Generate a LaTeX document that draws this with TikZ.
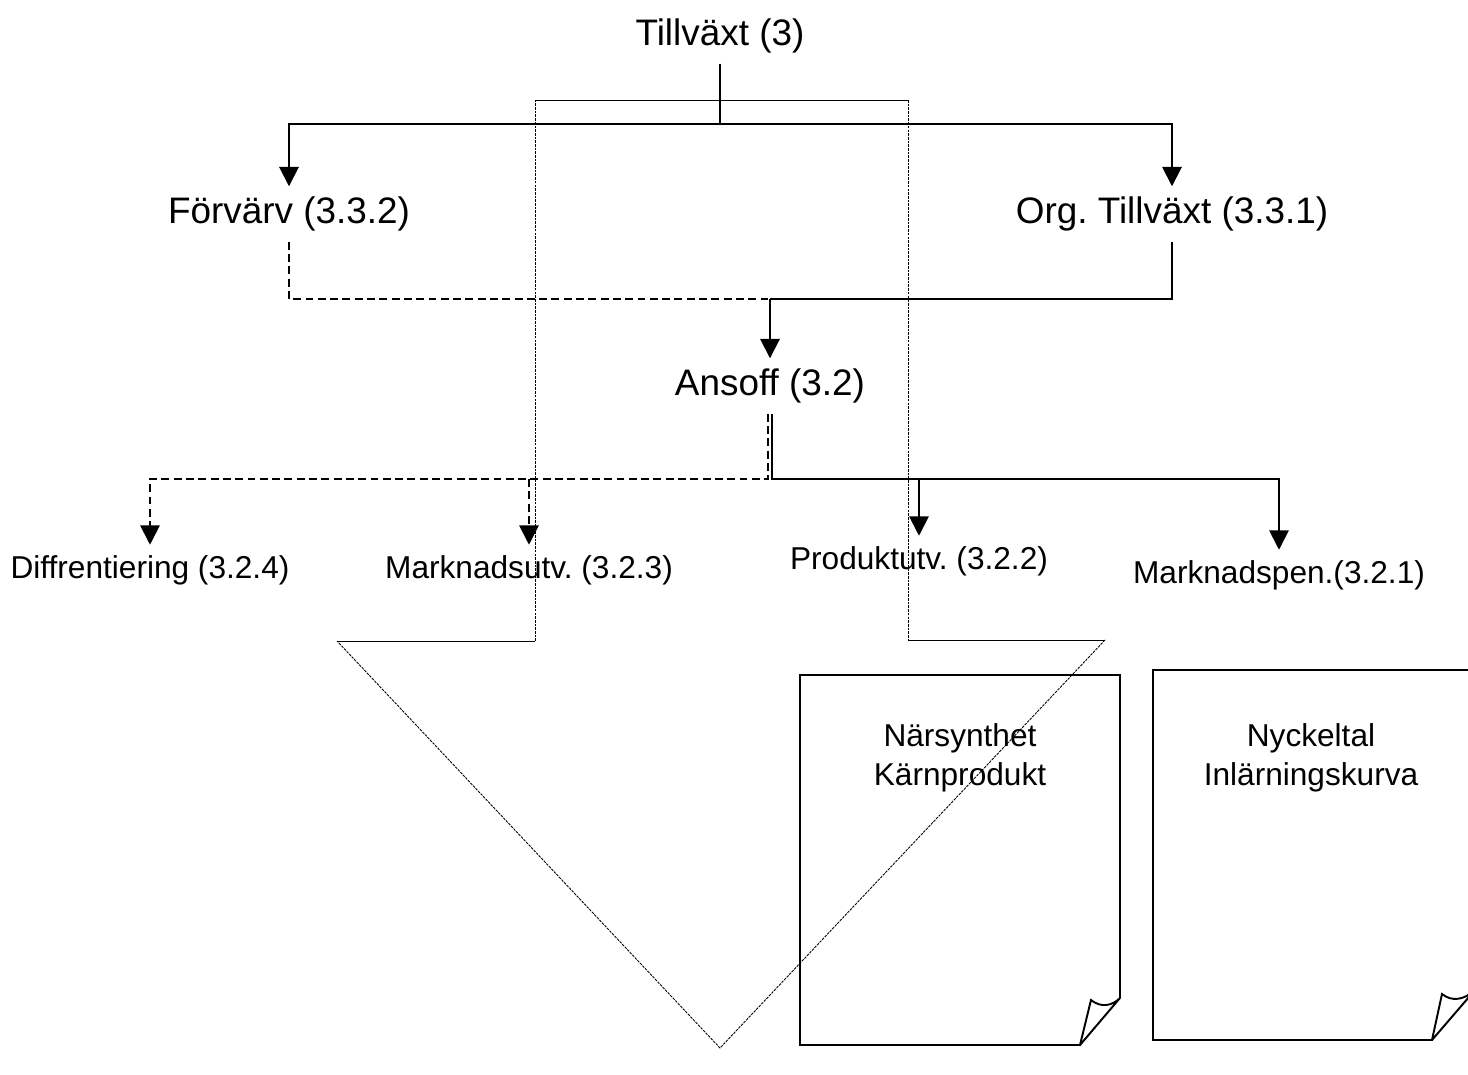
\documentclass[tikz,border=0pt]{standalone}
\usepackage{fontspec}
\setmainfont{Liberation Sans}
\usetikzlibrary{arrows.meta}
\frenchspacing
\tikzset{
  big/.style={font=\fontsize{21}{25}\selectfont, inner sep=0pt, outer sep=6pt},
  small/.style={font=\fontsize{18}{22}\selectfont, inner sep=0pt, outer sep=6pt},
  notetext/.style={font=\fontsize{18}{22}\selectfont, align=center, inner sep=0pt},
  line/.style={line width=1.1pt},
  arr/.style={line width=1.1pt, -{Triangle[width=11pt,length=11pt]}},
  dashline/.style={dash pattern=on 4.5pt off 2.5pt},
  outline/.style={line width=0.5pt, dash pattern=on 1.5pt off 0.6pt},
  note/.style={line width=1.1pt, line join=miter}
}
\begin{document}
\begin{tikzpicture}[x=0.02cm, y=-0.02cm]
\useasboundingbox (0,0) rectangle (1468,1075);

\node[big] (tillvaxt) at (720,36) {Tillväxt (3)};
\node[big] (forvarv) at (289,214) {Förvärv (3.3.2)};
\node[big] (org) at (1172,214) {Org. Tillväxt (3.3.1)};
\node[big] (ansoff) at (770,386) {Ansoff (3.2)};
\node[small] (diff) at (150,570) {Diffrentiering (3.2.4)};
\node[small] (mutv) at (529,570) {Marknadsutv. (3.2.3)};
\node[small] (prod) at (919,561) {Produktutv. (3.2.2)};
\node[small] (mpen) at (1279,575) {Marknadspen.(3.2.1)};

\coordinate (top) at (720,124);
\coordinate (mid) at (770,299);
\coordinate (low) at (770,479);

\draw[line] (tillvaxt.south) -- (top);
\draw[arr] (top) -| (forvarv.north);
\draw[arr] (top) -| (org.north);

\draw[line, dashline] (forvarv.south) |- (mid);
\draw[line] (org.south) |- (mid);
\draw[arr] (mid) -- (ansoff.north);

\draw[arr, dashline] ([xshift=-1pt]ansoff.south) -- ([xshift=-1pt]low) -| (diff.north);
\draw[arr, dashline] (mutv.north |- low) -- (mutv.north);
\draw[arr] ([xshift=1pt]ansoff.south) -- ([xshift=1pt]low) -| (prod.north);
\draw[arr] ([xshift=1pt]low) -| (mpen.north);

\draw[outline] (535,641) -- (535,100);
\draw[line width=0.5pt] (535,100) -- (908,100);
\draw[outline] (908,100) -- (908,640);
\draw[line width=0.5pt] (908,640) -- (1105,640);
\draw[outline] (1105,640) -- (720,1048) -- (337,641);
\draw[line width=0.5pt] (337,641) -- (535,641);

\draw[note] (1120,998) -- (1120,675) -- (800,675) -- (800,1045) -- (1080,1045) -- (1091,1000)
  .. controls (1101,1008) and (1112,1006) .. (1120,998) -- (1080,1045);
\node[notetext] (narsynthet) at (960,758) {Närsynthet\\Kärnprodukt};

\draw[note] (1475,996) -- (1475,670) -- (1153,670) -- (1153,1040) -- (1432,1040) -- (1442,994)
  .. controls (1452,1002) and (1464,1000) .. (1475,990) -- (1432,1040);
\node[notetext] (nyckeltal) at (1311,758) {Nyckeltal\\Inlärningskurva};
\end{tikzpicture}
\end{document}
